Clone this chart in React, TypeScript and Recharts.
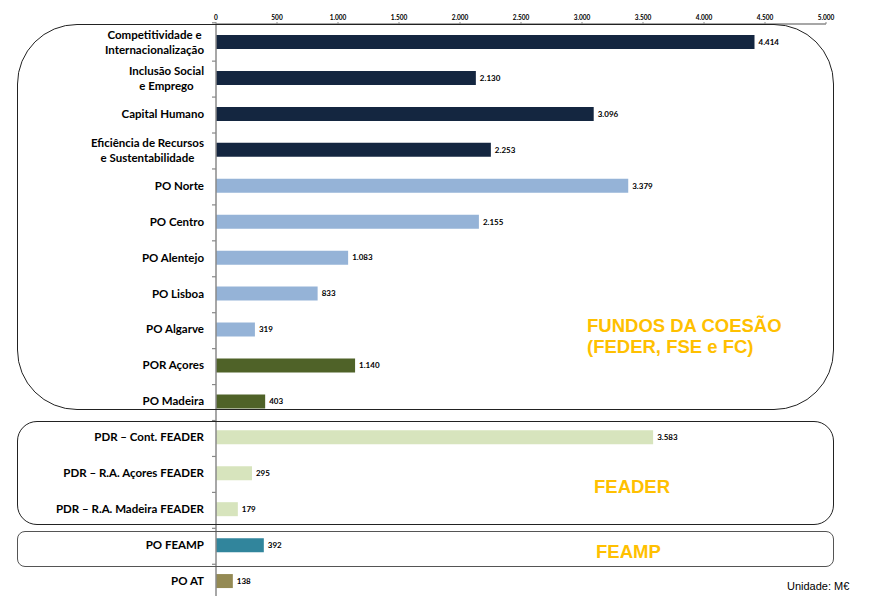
import React from 'react';
import { BarChart, Bar, XAxis, YAxis, Cell, LabelList } from 'recharts';

// Programas operacionais (rótulos com quebra de linha)
const categories = [
  ['Competitividade e', 'Internacionalização'],
  ['Inclusão Social', 'e Emprego'],
  ['Capital Humano'],
  ['Eficiência de Recursos', 'e Sustentabilidade'],
  ['PO Norte'],
  ['PO Centro'],
  ['PO Alentejo'],
  ['PO Lisboa'],
  ['PO Algarve'],
  ['POR Açores'],
  ['PO Madeira'],
  ['PDR – Cont. FEADER'],
  ['PDR – R.A. Açores FEADER'],
  ['PDR – R.A. Madeira FEADER'],
  ['PO FEAMP'],
  ['PO AT'],
];

const values = [4414, 2130, 3096, 2253, 3379, 2155, 1083, 833, 319, 1140, 403, 3583, 295, 179, 392, 138];

const groups = [
  'tematico', 'tematico', 'tematico', 'tematico',
  'regional', 'regional', 'regional', 'regional', 'regional',
  'autonoma', 'autonoma',
  'feader', 'feader', 'feader',
  'feamp', 'at',
];

const xTicks = [0, 500, 1000, 1500, 2000, 2500, 3000, 3500, 4000, 4500, 5000];

const groupColors: Record<string, string> = {
  tematico: '#142640',
  regional: '#95B3D7',
  autonoma: '#4F6228',
  feader: '#D7E4BD',
  feamp: '#31859C',
  at: '#948A54',
};

const data = categories.map((lines, i) => ({
  name: lines.join(' '),
  lines,
  value: values[i],
  group: groups[i],
}));

const fmt = (v: number) => String(v).replace(/\B(?=(\d{3})+(?!\d))/g, '.');

const labelFont = '700 11.5px Lato';
let ctx: CanvasRenderingContext2D | null = null;
const measure = (s: string) => {
  if (!ctx) ctx = document.createElement('canvas').getContext('2d');
  if (!ctx) return s.length * 6;
  ctx.font = labelFont;
  return ctx.measureText(s).width;
};

const CategoryTick = (props: any) => {
  const { x, y, payload, index } = props;
  const item = data.find((d) => d.name === payload.value);
  const lines = item ? item.lines : [payload.value];
  const half = 19.17;
  const right = x - 12;
  let text;
  if (lines.length === 1) {
    text = (
      <text x={right} y={y} dy="0.35em" textAnchor="end" fontFamily="Lato" fontWeight={700} fontSize={11.5} fill="#000">
        {lines[0]}
      </text>
    );
  } else {
    const w = Math.max(...lines.map(measure));
    const cx = right - w / 2;
    text = (
      <text x={cx} y={y} textAnchor="middle" fontFamily="Lato" fontWeight={700} fontSize={11.5} fill="#000">
        {lines.map((l: string, i: number) => (
          <tspan key={i} x={cx} dy={i === 0 ? '-0.25em' : '1.3em'}>{l}</tspan>
        ))}
      </text>
    );
  }
  return (
    <g>
      <line x1={x - 4} x2={x} y1={y + half} y2={y + half} stroke="#888" strokeWidth={1.2} />
      {index === 0 && <line x1={x - 4} x2={x} y1={y - half} y2={y - half} stroke="#888" strokeWidth={1.2} />}
      {text}
    </g>
  );
};

const boxStyle = (top: number, height: number, radius: number, color: string): React.CSSProperties => ({
  position: 'absolute',
  left: 17,
  top,
  width: 817,
  height,
  border: `1.5px solid ${color}`,
  borderRadius: radius,
  boxSizing: 'border-box',
  pointerEvents: 'none',
});

const titleStyle = (left: number, top: number): React.CSSProperties => ({
  position: 'absolute',
  left,
  top,
  fontFamily: '"Liberation Sans", Arial, sans-serif',
  fontWeight: 700,
  fontSize: 18.5,
  lineHeight: '21px',
  color: '#FFC000',
  whiteSpace: 'nowrap',
});

export default function App() {
  return (
    <div style={{ position: 'absolute', left: 0, top: 0, width: 891, height: 596, overflow: 'hidden', background: '#fff' }}>
      <BarChart
        width={891}
        height={600}
        layout="vertical"
        data={data}
        margin={{ top: 5, right: 65, bottom: 1, left: 0 }}
        barSize={14}
      >
        <XAxis
          type="number"
          orientation="top"
          domain={[0, 5000]}
          ticks={xTicks}
          tickFormatter={fmt}
          height={19}
          interval={0}
          axisLine={{ stroke: '#8a8a8a', strokeWidth: 1.5 }}
          tickLine={{ stroke: '#8a8a8a' }}
          tickSize={2}
          tickMargin={2}
          tick={{ fontSize: 6.5, fontWeight: 700, fill: '#000', fontFamily: 'Lato' }}
        />
        <YAxis
          type="category"
          dataKey="name"
          width={216}
          interval={0}
          axisLine={{ stroke: '#8a8a8a', strokeWidth: 1.5 }}
          tickLine={false}
          tickSize={0}
          tickMargin={0}
          tick={<CategoryTick />}
        />
        <Bar dataKey="value" isAnimationActive={false}>
          {data.map((d, i) => (
            <Cell key={i} fill={groupColors[d.group]} />
          ))}
          <LabelList
            dataKey="value"
            position="right"
            offset={4}
            formatter={(v: any) => fmt(Number(v))}
            style={{ fontSize: 8, fontWeight: 700, fill: '#000', fontFamily: 'Lato' }}
          />
        </Bar>
      </BarChart>

      <div style={boxStyle(24, 386, 60, '#222')} />
      <div style={boxStyle(421, 104, 20, '#222')} />
      <div style={boxStyle(531, 36, 8, '#555')} />

      <div style={titleStyle(587, 315)}>
        FUNDOS DA COESÃO
        <br />
        (FEDER, FSE e FC)
      </div>
      <div style={titleStyle(594, 476)}>FEADER</div>
      <div style={titleStyle(596, 541)}>FEAMP</div>
      <div
        style={{
          position: 'absolute',
          left: 787,
          top: 580,
          fontFamily: '"Liberation Sans", Arial, sans-serif',
          fontSize: 11,
          color: '#000',
          whiteSpace: 'nowrap',
        }}
      >
        Unidade: M€
      </div>
    </div>
  );
}
